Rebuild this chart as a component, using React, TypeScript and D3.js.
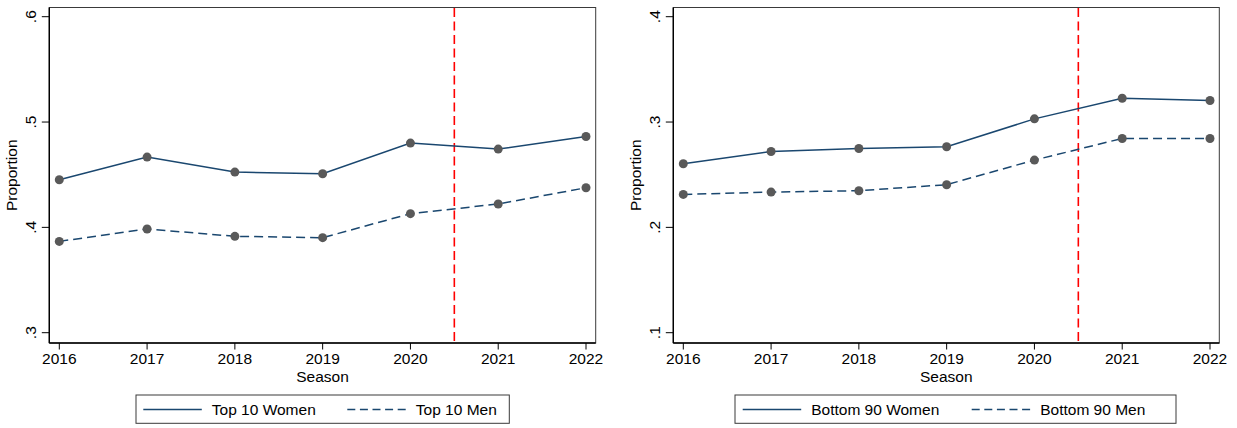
import React from "react";
import * as d3 from "d3";

const seasons = [2016, 2017, 2018, 2019, 2020, 2021, 2022];
const top10Women = [0.4452, 0.4667, 0.4525, 0.4509, 0.4800, 0.4743, 0.4863];
const top10Men = [0.3867, 0.3985, 0.3915, 0.3902, 0.4130, 0.4222, 0.4376];
const bottom90Women = [0.2604, 0.2720, 0.2749, 0.2765, 0.3030, 0.3226, 0.3204];
const bottom90Men = [0.2313, 0.2335, 0.2348, 0.2405, 0.2639, 0.2844, 0.2844];
const leftYTicks = [0.3, 0.4, 0.5, 0.6];
const rightYTicks = [0.1, 0.2, 0.3, 0.4];
const leftYTickLabels = [".3", ".4", ".5", ".6"];
const rightYTickLabels = [".1", ".2", ".3", ".4"];
const cutoffSeason = 2020.5;
const leftLegend = ["Top 10 Women", "Top 10 Men"];
const rightLegend = ["Bottom 90 Women", "Bottom 90 Men"];

const FONT = "'Liberation Sans', Arial, Helvetica, sans-serif";
const NAVY = "#1a476f";
const MARKER = "#595959";

type PanelProps = {
  boxX0: number;
  boxX1: number;
  xR0: number;
  xR1: number;
  yDomain: [number, number];
  yTicks: number[];
  yTickLabels: string[];
  women: number[];
  men: number[];
  legend: string[];
  legBox: [number, number];
  legCols: [number, number];
};

function Panel(p: PanelProps) {
  const boxY0 = 7.5;
  const boxY1 = 343;
  const x = d3.scaleLinear().domain([2016, 2022]).range([p.xR0, p.xR1]);
  const y = d3.scaleLinear().domain(p.yDomain).range([332.7, 16.7]);
  const line = d3
    .line<number>()
    .x((_, i) => x(seasons[i]))
    .y((d) => y(d));
  const midX = (p.boxX0 + p.boxX1) / 2;
  const midY = (boxY0 + boxY1) / 2;
  const legLineLen = 58.5;
  const legY0 = 395;
  const legY1 = 423.3;
  return (
    <g>
      <rect
        x={p.boxX0}
        y={boxY0}
        width={p.boxX1 - p.boxX0}
        height={boxY1 - boxY0}
        fill="white"
        stroke="#3a3a3a"
        strokeWidth={1}
      />
      {/* red cutoff line */}
      <line
        x1={x(cutoffSeason)}
        x2={x(cutoffSeason)}
        y1={boxY0 + 0.5}
        y2={boxY1}
        stroke="#ff0000"
        strokeWidth={1.6}
        strokeDasharray="9 4.5"
      />
      {/* series lines */}
      <path d={line(p.women) || ""} fill="none" stroke={NAVY} strokeWidth={1.5} />
      <path
        d={line(p.men) || ""}
        fill="none"
        stroke={NAVY}
        strokeWidth={1.5}
        strokeDasharray="9 5"
      />
      {p.women.map((v, i) => (
        <circle key={"w" + i} cx={x(seasons[i])} cy={y(v)} r={4.5} fill={MARKER} />
      ))}
      {p.men.map((v, i) => (
        <circle key={"m" + i} cx={x(seasons[i])} cy={y(v)} r={4.5} fill={MARKER} />
      ))}
      {/* axes */}
      <line x1={p.boxX0} x2={p.boxX0} y1={boxY0} y2={boxY1} stroke="black" strokeWidth={1.4} />
      <line x1={p.boxX0} x2={p.boxX1} y1={boxY1} y2={boxY1} stroke="black" strokeWidth={1.4} />
      {p.yTicks.map((t, i) => (
        <g key={"yt" + i}>
          <line x1={p.boxX0 - 7.5} x2={p.boxX0} y1={y(t)} y2={y(t)} stroke="black" strokeWidth={1} />
          <text
            transform={`translate(${p.boxX0 - 13.8},${y(t)}) rotate(-90)`}
            textAnchor="middle"
            fontFamily={FONT}
            fontSize={15.5}
            fill="black"
          >
            {p.yTickLabels[i]}
          </text>
        </g>
      ))}
      <text
        transform={`translate(${p.boxX0 - 32.6},${midY}) rotate(-90)`}
        textAnchor="middle"
        fontFamily={FONT}
        fontSize={15.5}
        fill="black"
      >
        Proportion
      </text>
      {seasons.map((s) => (
        <g key={"xt" + s}>
          <line x1={x(s)} x2={x(s)} y1={boxY1} y2={boxY1 + 6.5} stroke="black" strokeWidth={1} />
          <text
            x={x(s)}
            y={364.2}
            textAnchor="middle"
            fontFamily={FONT}
            fontSize={15.5}
            fill="black"
          >
            {s}
          </text>
        </g>
      ))}
      <text x={midX} y={381.5} textAnchor="middle" fontFamily={FONT} fontSize={15.5} fill="black">
        Season
      </text>
      {/* legend */}
      <rect
        x={p.legBox[0]}
        y={legY0}
        width={p.legBox[1] - p.legBox[0]}
        height={legY1 - legY0}
        fill="white"
        stroke="#3a3a3a"
        strokeWidth={1}
      />
      {p.legend.map((lab, i) => (
        <g key={"lg" + i}>
          <line
            x1={p.legCols[i]}
            x2={p.legCols[i] + legLineLen}
            y1={409.5}
            y2={409.5}
            stroke={NAVY}
            strokeWidth={1.5}
            strokeDasharray={i === 1 ? "8 4.6" : undefined}
          />
          <text
            x={p.legCols[i] + 68.5}
            y={415}
            fontFamily={FONT}
            fontSize={15.5}
            fill="black"
          >
            {lab}
          </text>
        </g>
      ))}
    </g>
  );
}

export default function App() {
  return (
    <svg
      width={1237}
      height={428}
      style={{ position: "absolute", left: 0, top: 0, background: "white" }}
    >
      <rect x={0} y={0} width={1237} height={428} fill="white" />
      <Panel
        boxX0={49.3}
        boxX1={595.7}
        xR0={59.3}
        xR1={586}
        yDomain={[0.3, 0.6]}
        yTicks={leftYTicks}
        yTickLabels={leftYTickLabels}
        women={top10Women}
        men={top10Men}
        legend={leftLegend}
        legBox={[136, 509.3]}
        legCols={[143.3, 347.3]}
      />
      <Panel
        boxX0={673.3}
        boxX1={1219.3}
        xR0={683.3}
        xR1={1210}
        yDomain={[0.1, 0.4]}
        yTicks={rightYTicks}
        yTickLabels={rightYTickLabels}
        women={bottom90Women}
        men={bottom90Men}
        legend={rightLegend}
        legBox={[735, 1176]}
        legCols={[742.7, 971.7]}
      />
    </svg>
  );
}
